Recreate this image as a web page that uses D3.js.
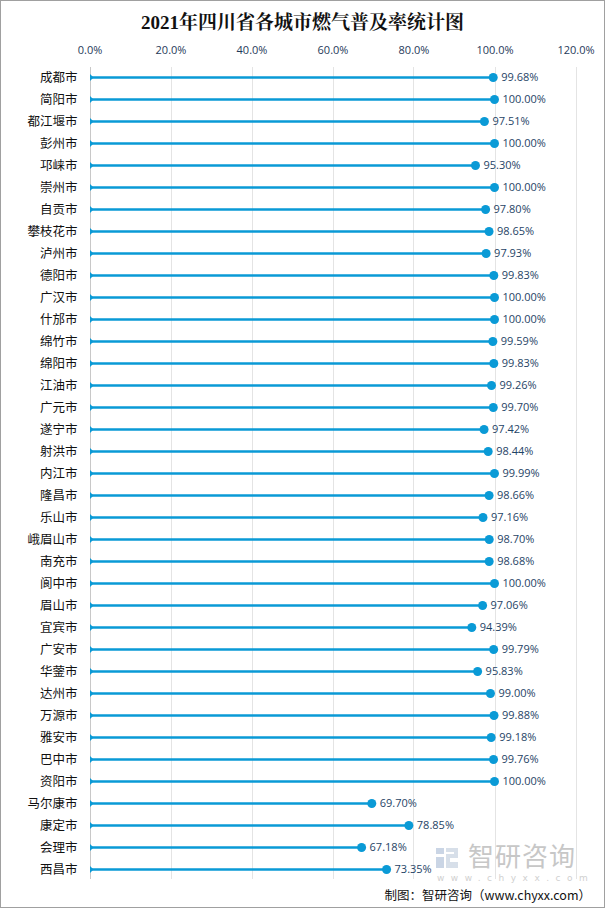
<!DOCTYPE html>
<html>
<head>
<meta charset="utf-8">
<script src="https://cdn.jsdelivr.net/npm/d3@7"></script>
<style>
body{margin:0;background:#fff;}
svg{display:block;}
</style>
</head>
<body>
<script>
var WIDTH = 605, HEIGHT = 908;
var MARGIN = {left: 89.5, right: 29.5, top: 77, bottom: 39};

var cities = ["成都市","简阳市","都江堰市","彭州市","邛崃市","崇州市","自贡市","攀枝花市","泸州市","德阳市",
	"广汉市","什邡市","绵竹市","绵阳市","江油市","广元市","遂宁市","射洪市","内江市","隆昌市",
	"乐山市","峨眉山市","南充市","阆中市","眉山市","宜宾市","广安市","华蓥市","达州市","万源市",
	"雅安市","巴中市","资阳市","马尔康市","康定市","会理市","西昌市"];
var rates = [99.68,100.00,97.51,100.00,95.30,100.00,97.80,98.65,97.93,99.83,
	100.00,100.00,99.59,99.83,99.26,99.70,97.42,98.44,99.99,98.66,
	97.16,98.70,98.68,100.00,97.06,94.39,99.79,95.83,99.00,99.88,
	99.18,99.76,100.00,69.70,78.85,67.18,73.35];
var ticks = [0,20,40,60,80,100,120];

var _svg = d3.select('body').append('svg')
	.attr('width', WIDTH)
	.attr('height', HEIGHT);

_svg.append('rect')
	.attr('x',0.5).attr('y',0.5)
	.attr('width',WIDTH-1).attr('height',HEIGHT-1)
	.attr('fill','#fff').attr('stroke','#a0a0a0');

var _xScale = d3.scaleLinear().domain([0,120]).range([MARGIN.left, WIDTH - MARGIN.right]);
var _yScale = d3.scalePoint().domain(cities).range([MARGIN.top+0.5, 869.5]);

_svg.append('text')
	.attr('x', WIDTH/2).attr('y', 29)
	.attr('text-anchor','middle')
	.style('font-family','"Liberation Serif","Noto Serif CJK SC","Noto Sans CJK SC",serif')
	.style('font-weight','bold').style('font-size','19px')
	.attr('fill','#111')
	.text('2021年四川省各城市燃气普及率统计图');

// grid
_svg.append('g').selectAll('line').data(ticks).enter().append('line')
	.attr('x1', function(d){return Math.round(_xScale(d))+0.5})
	.attr('x2', function(d){return Math.round(_xScale(d))+0.5})
	.attr('y1', 67).attr('y2', 879)
	.attr('stroke', function(d){return d==0 ? '#c8c8c8' : '#e4e4e4'})
	.attr('stroke-width',1);

// top axis
var xAxis = d3.axisTop(_xScale).tickValues(ticks)
	.tickFormat(function(d){return d.toFixed(1)+'%'}).tickSize(0);
var ax = _svg.append('g').attr('transform','translate(0,57)').call(xAxis);
ax.select('.domain').remove();
ax.selectAll('text')
	.style('font-family','"Open Sans","DejaVu Sans",sans-serif')
	.style('font-size','11px').attr('fill','#1f3a5a');

// category labels
var yAxis = d3.axisLeft(_yScale).tickSize(0).tickPadding(12);
var ay = _svg.append('g').attr('transform','translate('+MARGIN.left+',0)').call(yAxis);
ay.select('.domain').remove();
ay.selectAll('text')
	.style('font-family','"Noto Sans CJK SC",sans-serif')
	.style('font-size','12.5px').attr('fill','#111');

// lollipops
var g = _svg.append('g').classed('bars', true);
var row = g.selectAll('.row').data(rates).enter().append('g').attr('class','row');

row.append('line')
	.attr('x1', _xScale(0)+1)
	.attr('x2', function(d){return _xScale(d)})
	.attr('y1', function(d,i){return _yScale(cities[i])})
	.attr('y2', function(d,i){return _yScale(cities[i])})
	.attr('stroke','#0a9ad6').attr('stroke-width',2.5);

row.append('path')
	.attr('d', function(d,i){
		var y = _yScale(cities[i]), x = _xScale(0)+0.5;
		return 'M'+x+','+(y-3.5)+' L'+(x+3.5)+','+y+' L'+x+','+(y+3.5)+'Z';
	})
	.attr('fill','#0a9ad6');

row.append('circle')
	.attr('cx', function(d){return _xScale(d)})
	.attr('cy', function(d,i){return _yScale(cities[i])})
	.attr('r', 4.5)
	.attr('fill','#0a9ad6');

row.append('text')
	.attr('x', function(d){return _xScale(d)+8})
	.attr('y', function(d,i){return _yScale(cities[i])})
	.attr('dy','0.35em')
	.style('font-family','"Open Sans","DejaVu Sans",sans-serif')
	.style('font-size','11px').attr('fill','#1f4466')
	.text(function(d){return d.toFixed(2)+'%'});

// watermark
var wm = _svg.append('g').attr('opacity',0.55);
wm.append('rect').attr('x',436).attr('y',848).attr('width',8).attr('height',6).attr('fill','#9fb4d0');
wm.append('rect').attr('x',436).attr('y',857).attr('width',8).attr('height',11).attr('fill','#9fb4d0');
wm.append('path').attr('d','M446,848 h12 v10 h-8 v4 h8 v6 h-12 v-14 h8 v-2 h-8z').attr('fill','#b8c6d8');
wm.append('text').attr('x',468).attr('y',866)
	.style('font-family','"Noto Sans CJK SC",sans-serif').style('font-size','26px')
	.attr('fill','#9a9a9a').attr('letter-spacing','1px').text('智研咨询');
wm.append('text').attr('x',437).attr('y',881)
	.style('font-family','"DejaVu Sans",sans-serif').style('font-size','9px')
	.attr('fill','#aaa').attr('letter-spacing','6.5px').text('www.chyxx.com');

_svg.append('text')
	.attr('x', 591).attr('y', 900)
	.attr('text-anchor','end')
	.style('font-family','"Noto Sans CJK SC",serif')
	.style('font-size','12.5px').attr('fill','#111')
	.text('制图：智研咨询（www.chyxx.com）');
</script>
</body>
</html>
